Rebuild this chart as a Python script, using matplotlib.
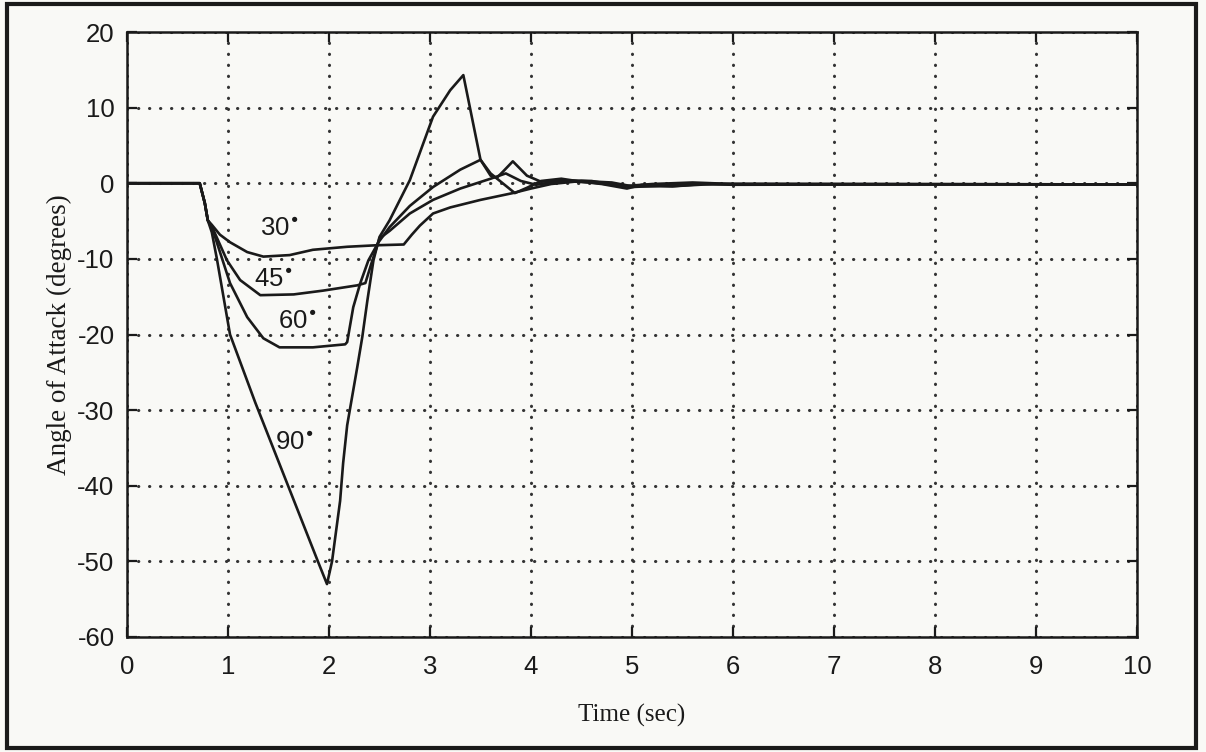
import numpy as np
import matplotlib
matplotlib.use('Agg')
from matplotlib import pyplot as plt
from matplotlib.patches import Rectangle

plt.rcParams['axes.unicode_minus'] = False

# angle of attack responses (time [s], alpha [deg])
t_30 = [0, 0.72, 0.77, 0.80, 0.84, 0.92, 1.02, 1.19, 1.35, 1.61, 1.84, 2.18,
        2.47, 2.74, 2.82, 2.90, 3.03, 3.20, 3.50, 3.82, 4.00, 4.20, 4.50,
        4.80, 5.00, 5.40, 5.80, 10.0]
a_30 = [0, 0, -2.6, -4.9, -5.5, -6.8, -7.8, -9.1, -9.7, -9.5, -8.8, -8.4,
        -8.2, -8.1, -6.8, -5.6, -4.0, -3.2, -2.2, -1.3, -0.7, -0.1, 0.3,
        0.1, -0.4, -0.4, -0.1, -0.15]

t_45 = [0, 0.72, 0.77, 0.80, 0.85, 0.99, 1.12, 1.32, 1.65, 1.94, 2.28, 2.36,
        2.42, 2.50, 2.60, 2.80, 3.03, 3.30, 3.60, 3.75, 3.90, 4.05, 4.30,
        4.60, 5.00, 5.30, 5.60, 10.0]
a_45 = [0, 0, -2.6, -4.9, -6.0, -10.2, -12.8, -14.8, -14.7, -14.2, -13.5,
        -13.2, -10.6, -7.3, -6.3, -4.0, -2.2, -0.7, 0.6, 1.3, 0.3, -0.2, 0.3,
        0.1, -0.5, -0.3, -0.1, -0.15]

t_60 = [0, 0.72, 0.77, 0.80, 0.85, 1.02, 1.19, 1.35, 1.51, 1.84, 2.16, 2.18,
        2.24, 2.31, 2.39, 2.49, 2.60, 2.80, 3.03, 3.30, 3.50, 3.60, 3.66,
        3.72, 3.82, 3.96, 4.10, 4.30, 4.60, 4.90, 5.20, 5.60, 6.00, 10.0]
a_60 = [0, 0, -2.6, -4.9, -6.2, -13.2, -17.7, -20.5, -21.7, -21.7, -21.3,
        -21.0, -16.4, -13.2, -10.2, -7.8, -5.8, -3.0, -0.5, 1.8, 3.1, 1.0,
        0.7, 1.5, 2.9, 1.0, 0.2, 0.4, 0.3, -0.4, -0.1, 0.1, -0.1, -0.15]

t_90 = [0, 0.72, 0.77, 0.80, 0.84, 0.89, 1.02, 1.27, 1.58, 1.89, 1.98, 2.03,
        2.06, 2.11, 2.14, 2.18, 2.28, 2.33, 2.38, 2.44, 2.50, 2.60, 2.80,
        3.03, 3.20, 3.33, 3.40, 3.50, 3.60, 3.72, 3.84, 3.96, 4.10, 4.30,
        4.50, 4.70, 4.95, 5.10, 5.40, 5.70, 6.00, 8.00, 10.0]
a_90 = [0, 0, -2.6, -4.9, -6.5, -10.0, -20.0, -29.0, -39.5, -50.0, -53.0,
        -50.0, -47.0, -42.0, -37.0, -32.0, -24.3, -20.3, -15.5, -10.2, -7.1,
        -4.9, 0.4, 8.8, 12.3, 14.3, 9.7, 3.1, 1.3, 0.0, -1.3, -0.6, 0.3, 0.6,
        0.2, -0.1, -0.7, -0.2, -0.4, -0.1, -0.2, -0.15, -0.15]

curves = [(t_30, a_30), (t_45, a_45), (t_60, a_60), (t_90, a_90)]

labels = ['30$^{\\bullet}$', '45$^{\\bullet}$', '60$^{\\bullet}$', '90$^{\\bullet}$']
label_t = [1.51, 1.45, 1.69, 1.66]
label_a = [-6.0, -12.8, -18.4, -34.4]

xticks = np.arange(0, 11, 1)
yticks = np.arange(-60, 21, 10)

bg = '#f9f9f6'
ink = '#1a1a1a'

fig = plt.figure(figsize=(12.06, 7.52), dpi=100, facecolor=bg)
ax = fig.add_axes([127/1206., 1 - 637/752., 1010/1206., 605/752.])
ax.set_facecolor(bg)

for t, a in curves:
    ax.plot(t, a, color=ink, lw=1.9, solid_joinstyle='round')

for lab, lt, la in zip(labels, label_t, label_a):
    ax.text(lt, la, lab, ha='center', va='center', fontsize=18.5,
            family='Liberation Sans', color=ink)

ax.set_xlim(0, 10)
ax.set_ylim(-60, 20)
ax.set_xticks(xticks)
ax.set_yticks(yticks)
ax.grid(True, color='#333333', lw=2.2, linestyle=(0, (0.1, 3.5)),
        dash_capstyle='round')
ax.tick_params(direction='in', length=7, width=1.6, top=True, right=True,
               labelsize=18.5, colors=ink)
ax.tick_params(axis='x', pad=13)
ax.tick_params(axis='y', pad=9)
for lab in ax.get_xticklabels() + ax.get_yticklabels():
    lab.set_family('Liberation Sans')
for sp in ax.spines.values():
    sp.set_linewidth(1.8)
    sp.set_color(ink)

ax.set_xlabel('Time (sec)', family='Liberation Serif', fontsize=18,
              color=ink, labelpad=18)
ax.set_ylabel('Angle of Attack (degrees)', family='Liberation Serif',
              fontsize=19.5, color=ink, labelpad=4)

fig.patches.append(Rectangle((7/1206., 4/752.), 1189/1206., 744/752.,
                             transform=fig.transFigure, fill=False,
                             lw=3, edgecolor=ink))

fig.savefig('out.png', dpi=100, facecolor=bg)
